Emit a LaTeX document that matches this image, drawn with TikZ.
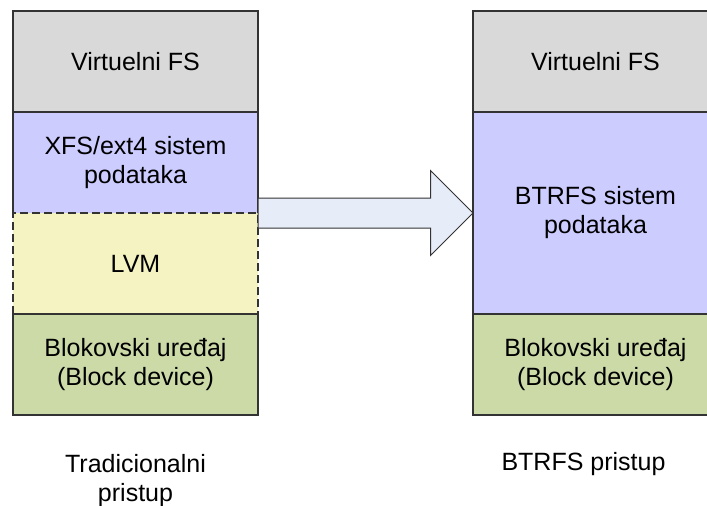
\documentclass[tikz,border=0pt]{standalone}
\usepackage{fontspec}
\setmainfont{Liberation Sans}
\usetikzlibrary{positioning,shapes.arrows}

\definecolor{linegray}{HTML}{333333}
\definecolor{vfsgray}{HTML}{D9D9D9}
\definecolor{fsblue}{HTML}{CCCCFF}
\definecolor{lvmyellow}{HTML}{F5F3C2}
\definecolor{blkgreen}{HTML}{CCDAA8}
\definecolor{arrowblue}{HTML}{E6ECF8}

\begin{document}
\begin{tikzpicture}[
    x=1pt, y=-1pt,
    layer/.style={draw=linegray, line width=1.3pt, minimum width=245pt,
      minimum height=101pt, inner sep=0pt, outer sep=0pt, align=center,
      font=\fontsize{25}{29}\selectfont},
    caption/.style={inner sep=0pt, align=center, font=\fontsize{25}{29}\selectfont},
    move/.style={single arrow, draw=linegray, fill=arrowblue, line width=1pt,
      minimum height=215pt, single arrow head extend=27.5pt,
      inner sep=14.5pt, outer sep=0pt}
  ]
  \useasboundingbox (0,0) rectangle (707,506);

  % traditional stack
  \node[layer, fill=vfsgray] (vfs1) at (135.5,61.5) {Virtuelni FS};
  \node[layer, fill=fsblue, draw=none, below=0pt of vfs1] (xfs) {XFS/ext4 sistem\\podataka};
  \draw[line width=1.3pt, draw=linegray] (xfs.south west) |- (xfs.north east) -- (xfs.south east);
  \node[layer, fill=lvmyellow, dash pattern=on 8pt off 4pt, below=0pt of xfs] (lvm) {LVM};
  \node[layer, fill=blkgreen, below=0pt of lvm] (blk1) {Blokovski uređaj\\(Block device)};

  % btrfs stack
  \node[layer, fill=vfsgray] (vfs2) at (595.5,61.5) {Virtuelni FS};
  \node[layer, fill=fsblue, minimum height=202pt, below=0pt of vfs2] (btrfs) {BTRFS sistem\\podataka};
  \node[layer, fill=blkgreen, below=0pt of btrfs] (blk2) {Blokovski uređaj\\(Block device)};

  \node[move, anchor=tail] (shift) at (xfs.south east) {};

  \node[caption, below=39pt of blk1] (trad) {Tradicionalni\\pristup};
  \node[caption, anchor=base] (btrp) at (583.5,470) {BTRFS pristup};
\end{tikzpicture}
\end{document}
